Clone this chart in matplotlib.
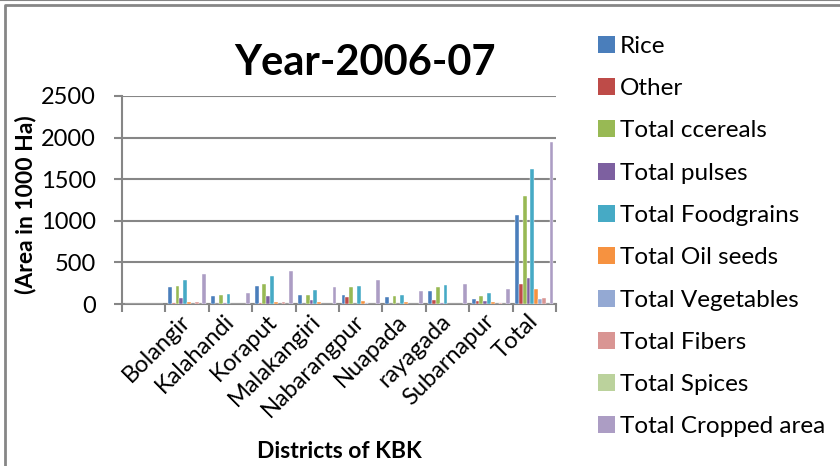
import numpy as np
import matplotlib
matplotlib.use("Agg")
import matplotlib.pyplot as plt
from matplotlib.patches import Patch
from matplotlib.lines import Line2D

plt.rcParams['font.family'] = ['Lato', 'DejaVu Sans']

# districts (the first slot is an empty category)
districts = ["", "Bolangir", "Kalahandi", "Koraput", "Malakangiri",
             "Nabarangpur", "Nuapada", "rayagada", "Subarnapur", "Total"]

# area in 1000 Ha, one list per crop group
rice = [0, 208, 96, 216, 104, 108, 84, 160, 60, 1068]
other = [0, 8, 0, 14, 0, 88, 0, 48, 40, 236]
total_cereals = [0, 220, 104, 240, 108, 204, 96, 204, 96, 1300]
total_pulses = [0, 68, 16, 96, 52, 0, 0, 12, 36, 312]
total_foodgrains = [0, 288, 120, 336, 168, 220, 108, 228, 136, 1620]
total_oilseeds = [0, 24, 0, 24, 24, 36, 24, 6, 24, 176]
total_vegetables = [0, 0, 0, 0, 0, 8, 0, 0, 0, 60]
total_fibers = [0, 24, 0, 24, 0, 0, 0, 0, 12, 68]
total_spices = [0, 0, 0, 0, 0, 0, 0, 0, 0, 0]
total_cropped = [0, 356, 128, 392, 200, 288, 152, 240, 180, 1952]

series = [rice, other, total_cereals, total_pulses, total_foodgrains,
          total_oilseeds, total_vegetables, total_fibers, total_spices,
          total_cropped]
names = ["Rice", "Other", "Total ccereals", "Total pulses", "Total Foodgrains",
         "Total Oil seeds", "Total Vegetables", "Total Fibers", "Total Spices",
         "Total Cropped area"]
colors = ["#4A7EBB", "#BE4B48", "#98B954", "#7D60A0", "#46AAC5",
          "#F69240", "#94A9D3", "#D99593", "#BBD29C", "#AC9DC4"]

fig = plt.figure(figsize=(8.4, 4.66), dpi=100)
ax = fig.add_axes([0.1452, 0.3476, 0.5167, 0.4464])

x = np.arange(len(districts))
w = 0.088
for i, (vals, nm, c) in enumerate(zip(series, names, colors)):
    ax.bar(x - 4.5 * w + i * w, vals, width=w, color=c, label=nm,
           edgecolor="white", linewidth=0.3, zorder=3)

ax.set_xlim(-0.5, len(districts) - 0.5)
ax.set_ylim(0, 2500)
ax.set_yticks(range(0, 2501, 500))
ax.yaxis.grid(True, color="#868686", linewidth=1.5)
ax.set_axisbelow(True)

# category boundaries carry the tick marks
ax.set_xticks(np.arange(-0.5, len(districts), 1.0))
ax.set_xticklabels([])
ax.set_xticks(x, minor=True)
ax.set_xticklabels(districts, minor=True, rotation=45, ha="right",
                   va="center", rotation_mode="anchor", fontsize=17)
ax.tick_params(axis="x", which="minor", length=0, pad=10)
ax.tick_params(axis="x", which="major", length=6, width=1.5, color="#868686")
ax.tick_params(axis="y", length=6, width=1.5, color="#868686", labelsize=17, pad=13)

for s in ["top", "right"]:
    ax.spines[s].set_visible(False)
for s in ["left", "bottom"]:
    ax.spines[s].set_color("#868686")
    ax.spines[s].set_linewidth(1.5)

ax.set_ylabel("(Area in 1000 Ha)", fontsize=16.5, fontweight="bold")
ax.yaxis.set_label_coords(-0.198, 0.48)
ax.set_xlabel("Districts of KBK", fontsize=16.5, fontweight="bold")
ax.xaxis.set_label_coords(0.5, -0.66)
fig.text(0.4345, 0.865, "Year-2006-07", fontsize=30, fontweight="bold",
         ha="center", va="center")

handles = [Patch(facecolor=c, edgecolor="none") for c in colors]
fig.legend(handles, names, loc="upper left", bbox_to_anchor=(0.700, 0.944),
           frameon=False, fontsize=17.5, handlelength=0.7, handleheight=0.7,
           handletextpad=0.2, labelspacing=0.875, borderaxespad=0)

# chart border
fig.add_artist(Line2D([0, 1], [0.999, 0.999], color="#868686", linewidth=1.5))
fig.add_artist(Line2D([0.0065, 0.0065, 1], [0, 0.989, 0.989],
                      color="#868686", linewidth=2))

fig.savefig("out.png", dpi=100)
